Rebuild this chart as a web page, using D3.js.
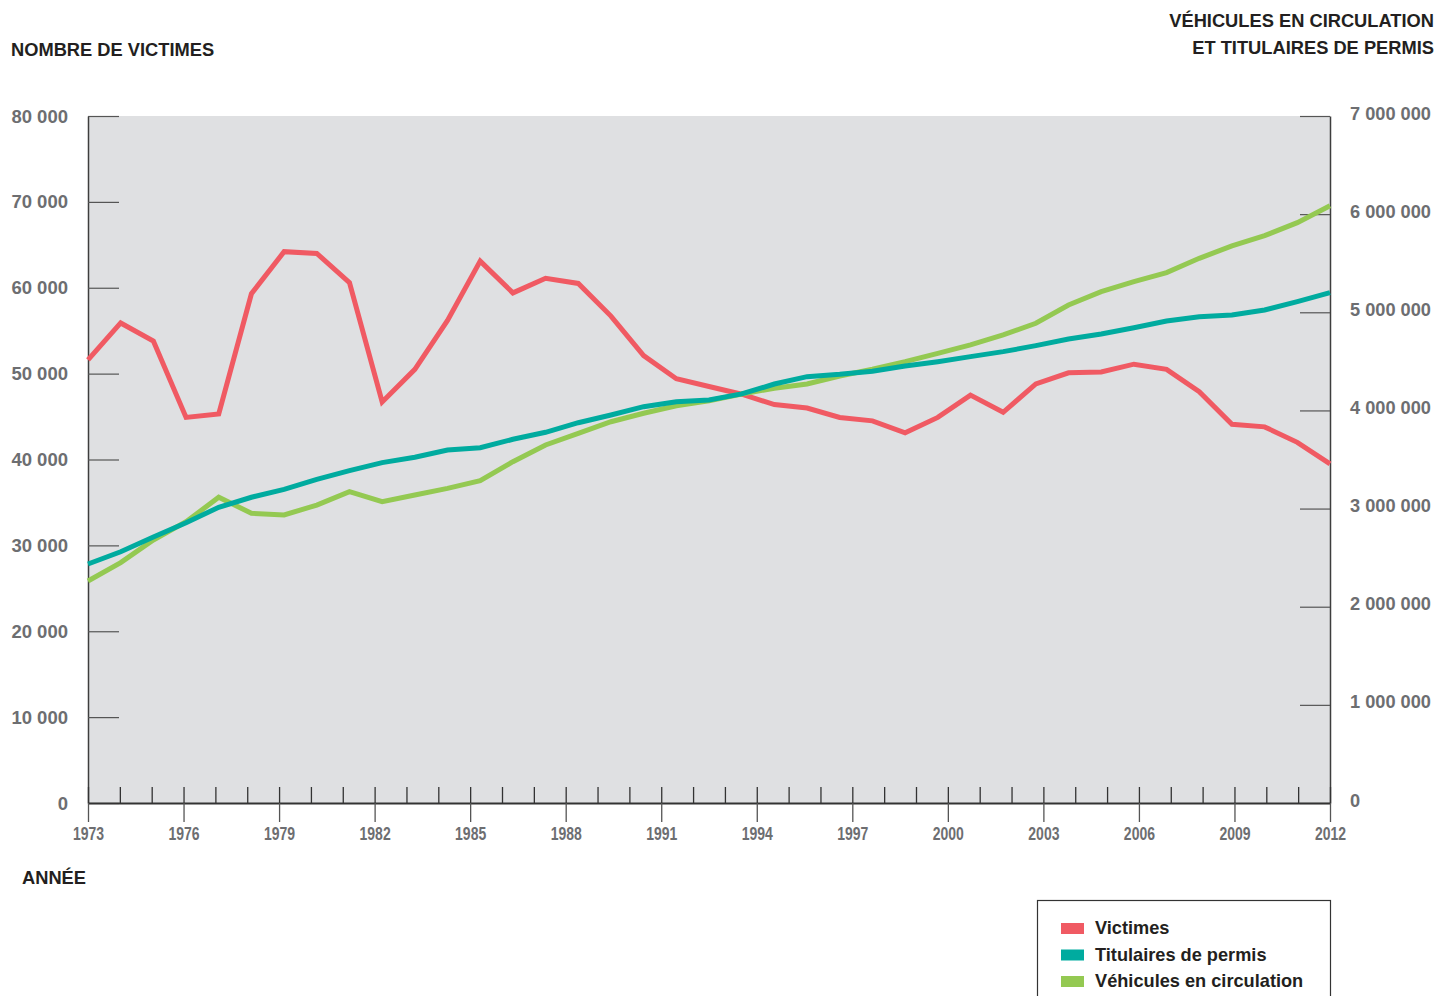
<!DOCTYPE html>
<html>
<head>
<meta charset="utf-8">
<script src="https://cdn.jsdelivr.net/npm/d3@7"></script>
<style>
  body { margin: 0; background: #fff; }
  text { font-family: "Liberation Sans", Arial, sans-serif; }
</style>
</head>
<body>
<div id="chart"></div>
<script>
// data (39 points spread over the 1973-2012 axis)
var victimes = [51600, 55900, 53800, 44900, 45300, 59300, 64200, 64000, 60600, 46700,
                50500, 56200, 63100, 59400, 61100, 60500, 56700, 52100, 49400, 48500,
                47600, 46400, 46000, 44900, 44500, 43100, 44900, 47500, 45500, 48800,
                50100, 50200, 51100, 50500, 47900, 44100, 43800, 42000, 39500];
var titulaires = [2435000, 2560000, 2710000, 2856000, 3013000, 3115000, 3196000, 3298000, 3386000, 3468000,
                  3523000, 3597000, 3620000, 3706000, 3777000, 3875000, 3953000, 4038000, 4089000, 4106000,
                  4168000, 4269000, 4344000, 4368000, 4400000, 4453000, 4497000, 4548000, 4599000, 4660000,
                  4728000, 4779000, 4843000, 4911000, 4955000, 4972000, 5023000, 5108000, 5200000];
var vehicules = [2262000, 2449000, 2680000, 2866000, 3115000, 2952000, 2935000, 3036000, 3172000, 3070000,
                 3138000, 3206000, 3284000, 3478000, 3648000, 3767000, 3885000, 3971000, 4048000, 4099000,
                 4168000, 4226000, 4269000, 4351000, 4420000, 4497000, 4582000, 4667000, 4769000, 4888000,
                 5074000, 5210000, 5312000, 5404000, 5550000, 5676000, 5781000, 5913000, 6086000];

var yearTicks = d3.range(1973, 2013);
var yearLabels = [1973, 1976, 1979, 1982, 1985, 1988, 1991, 1994, 1997, 2000, 2003, 2006, 2009, 2012];
var leftTicks = [0, 10000, 20000, 30000, 40000, 50000, 60000, 70000, 80000];
var rightTicks = [0, 1000000, 2000000, 3000000, 4000000, 5000000, 6000000, 7000000];

var seriesNames = ["Victimes", "Titulaires de permis", "Véhicules en circulation"];
var colors = ["#f05a63", "#00ab9f", "#94c952"];

var W = 1439, H = 996;
var plot = {left: 88, right: 1330, top: 116, bottom: 803};

var svg = d3.select("#chart").append("svg")
  .attr("width", W)
  .attr("height", H);

var fr = d3.formatLocale({decimal: ",", thousands: " ", grouping: [3], currency: ["", " €"]});
var fmt = fr.format(",");

// scales
var xAxisScale = d3.scaleLinear().domain([1973, 2012]).range([plot.left, plot.right]);
var xIdx = d3.scaleLinear().domain([0, victimes.length - 1]).range([plot.left, plot.right]);
var yLeft = d3.scaleLinear().domain([0, 80000]).range([plot.bottom, plot.top]);
var yRight = d3.scaleLinear().domain([0, 7000000]).range([plot.bottom, plot.top]);

// plot background
svg.append("rect")
  .attr("x", plot.left).attr("y", plot.top)
  .attr("width", plot.right - plot.left).attr("height", plot.bottom - plot.top)
  .style("fill", "#dfe0e2");

// left axis
var gl = svg.append("g")
  .attr("transform", "translate(" + plot.left + ",0)")
  .call(d3.axisLeft(yLeft).tickValues(leftTicks).tickSizeInner(-31).tickSizeOuter(0).tickPadding(20).tickFormat(fmt));

// right axis
var gr = svg.append("g")
  .attr("transform", "translate(" + plot.right + ",0)")
  .call(d3.axisRight(yRight).tickValues(rightTicks).tickSizeInner(-30).tickSizeOuter(0).tickPadding(20).tickFormat(fmt));

[gl, gr].forEach(function(g) {
  g.select(".domain").attr("stroke", "#3d3d3d").attr("stroke-width", 1.5);
  g.selectAll(".tick line").attr("stroke", "#555").attr("stroke-width", 1.2);
  g.selectAll(".tick text")
    .attr("fill", "#6d6e71")
    .style("font-weight", "bold");
});
gl.selectAll(".tick text").attr("dy", "0.33em").style("font-size", "18.5px");
gr.selectAll(".tick text").attr("dy", "0.17em").style("font-size", "18.2px");

// x axis: minor ticks every year (upwards), major every 3 years (crossing)
var gxMinor = svg.append("g")
  .attr("transform", "translate(0," + plot.bottom + ")")
  .call(d3.axisBottom(xAxisScale).tickValues(yearTicks).tickSizeInner(-16).tickSizeOuter(0).tickFormat(""));
gxMinor.select(".domain").attr("stroke", "#333").attr("stroke-width", 2.2);
gxMinor.selectAll(".tick line").attr("stroke", "#333").attr("stroke-width", 1.3);

var gxMajor = svg.append("g")
  .attr("transform", "translate(0," + plot.bottom + ")")
  .call(d3.axisBottom(xAxisScale).tickValues(yearLabels).tickSizeInner(19).tickSizeOuter(0).tickPadding(6).tickFormat(d3.format("d")));
gxMajor.select(".domain").remove();
gxMajor.selectAll(".tick line").attr("stroke", "#555").attr("stroke-width", 1.3);
// condensed year labels
gxMajor.selectAll(".tick text")
  .attr("fill", "#6d6e71")
  .attr("transform", "scale(0.8,1)")
  .style("font-size", "17.5px")
  .style("font-weight", "bold");

// lines
var lineLeft = d3.line()
  .x(function(d, i) { return xIdx(i); })
  .y(function(d) { return yLeft(d); });
var lineRight = d3.line()
  .x(function(d, i) { return xIdx(i); })
  .y(function(d) { return yRight(d); });

svg.append("path").datum(victimes)
  .attr("d", lineLeft)
  .attr("fill", "none").attr("stroke", colors[0]).attr("stroke-width", 5);
svg.append("path").datum(vehicules)
  .attr("d", lineRight)
  .attr("fill", "none").attr("stroke", colors[2]).attr("stroke-width", 5);
svg.append("path").datum(titulaires)
  .attr("d", lineRight)
  .attr("fill", "none").attr("stroke", colors[1]).attr("stroke-width", 5);

// titles
svg.append("text")
  .attr("x", 11).attr("y", 56)
  .attr("fill", "#231f20")
  .style("font-size", "18.3px").style("font-weight", "bold")
  .text("NOMBRE DE VICTIMES");

svg.append("text")
  .attr("x", 1434).attr("y", 27)
  .attr("text-anchor", "end")
  .attr("fill", "#231f20")
  .style("font-size", "18.3px").style("font-weight", "bold")
  .text("VÉHICULES EN CIRCULATION");
svg.append("text")
  .attr("x", 1434).attr("y", 54)
  .attr("text-anchor", "end")
  .attr("fill", "#231f20")
  .style("font-size", "18.3px").style("font-weight", "bold")
  .text("ET TITULAIRES DE PERMIS");

svg.append("text")
  .attr("x", 22).attr("y", 884)
  .attr("fill", "#231f20")
  .style("font-size", "18.3px").style("font-weight", "bold")
  .text("ANNÉE");

// legend
var legend = svg.append("g");
legend.append("rect")
  .attr("x", 1037.5).attr("y", 900.5)
  .attr("width", 293).attr("height", 120)
  .attr("fill", "#fff")
  .attr("stroke", "#333").attr("stroke-width", 1.2);

var items = legend.selectAll("g.item")
  .data(seriesNames)
  .enter().append("g")
  .attr("class", "item")
  .attr("transform", function(d, i) { return "translate(1061," + (923 + i * 26.5) + ")"; });
items.append("rect")
  .attr("width", 23).attr("height", 11)
  .attr("fill", function(d, i) { return colors[i]; });
items.append("text")
  .attr("x", 34).attr("y", 11)
  .attr("fill", "#231f20")
  .style("font-size", "18.2px").style("font-weight", "bold")
  .text(function(d) { return d; });
</script>
</body>
</html>
